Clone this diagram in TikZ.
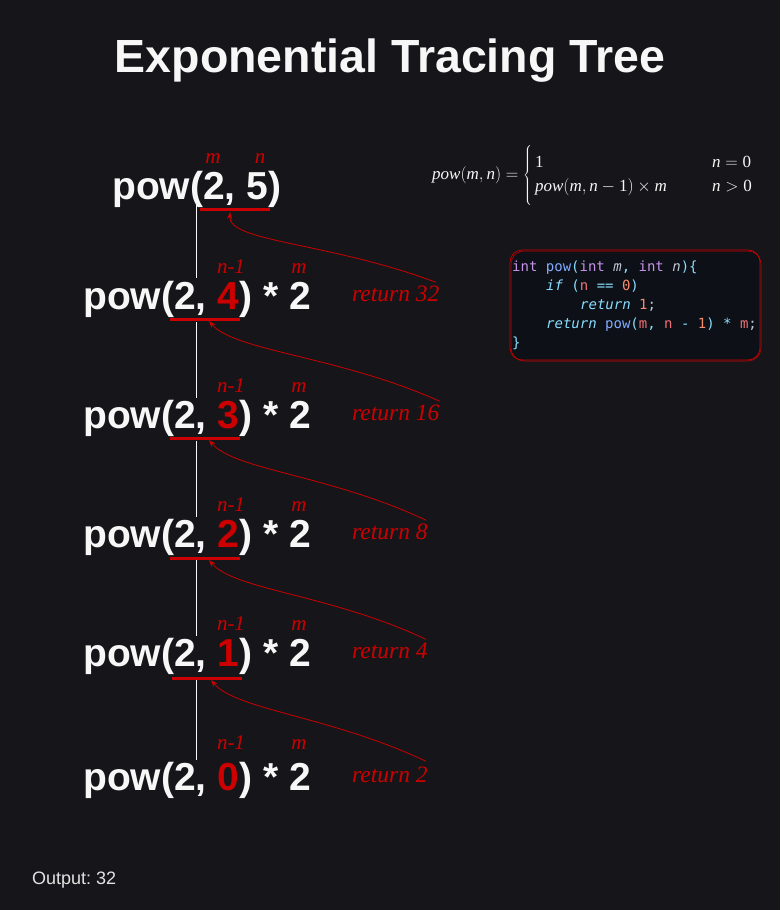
\documentclass[tikz,border=0pt]{standalone}
\usepackage{fontspec}
\setmainfont{Liberation Serif}
\setsansfont{Liberation Sans}
\setmonofont{DejaVu Sans Mono}
\usetikzlibrary{arrows.meta}
\definecolor{bg}{HTML}{16161A}
\definecolor{redc}{HTML}{CC0000}
\definecolor{txtw}{HTML}{F7F7F7}
\definecolor{codebg}{HTML}{0D1117}
\definecolor{ckw}{HTML}{C792EA}
\definecolor{cfn}{HTML}{82AAFF}
\definecolor{cpu}{HTML}{89DDFF}
\definecolor{cva}{HTML}{F07178}
\definecolor{cnu}{HTML}{F78C6C}
\definecolor{cpl}{HTML}{BFC7D5}
\newcommand\cKw[1]{\textcolor{ckw}{#1}}
\newcommand\cFn[1]{\textcolor{cfn}{#1}}
\newcommand\cPu[1]{\textcolor{cpu}{#1}}
\newcommand\cVa[1]{\textcolor{cva}{#1}}
\newcommand\cNu[1]{\textcolor{cnu}{#1}}
\newcommand\cPl[1]{\textcolor{cpl}{#1}}
\newcommand\cIt[1]{\textcolor{cpu}{\itshape #1}}
\newcommand\cPa[1]{\textcolor{cpl}{\itshape #1}}
\newcommand\rd[1]{\textcolor{redc}{#1}}
\newcommand\mi[1]{\textit{#1}}
\frenchspacing
\begin{document}
\begin{tikzpicture}[x=1pt,y=-1pt,
  powtxt/.style={anchor=base west,inner sep=0pt,text=txtw,font=\sffamily\bfseries\fontsize{39}{44}\selectfont},
  vlabel/.style={anchor=base,inner sep=0pt,text=redc,font=\itshape\fontsize{21}{24}\selectfont},
  rettxt/.style={anchor=base west,inner sep=0pt,text=redc,font=\itshape\fontsize{23.5}{26}\selectfont},
  uline/.style={draw=redc,line width=3pt},
  tree/.style={draw=txtw,line width=0.8pt},
  retarrow/.style={draw=redc,line width=0.8pt,-{Stealth[length=7pt,width=5pt]}},
  codeline/.style={anchor=base west,inner sep=0pt,text=cpl,font=\ttfamily\fontsize{14}{17}\selectfont}]
\fill[bg] (0,0) rectangle (780,910);
\useasboundingbox (0,0) rectangle (780,910);

% title
\node[anchor=base,inner sep=0pt,text=txtw,font=\sffamily\bfseries\fontsize{46.5}{50}\selectfont] (title) at (390,72) {Exponential Tracing Tree};

% tree line
\draw[tree] (196,205) -- (196,278);
\draw[tree] (196,322) -- (196,398);
\draw[tree] (196,441) -- (196,517);
\draw[tree] (196,560) -- (196,636);
\draw[tree] (196,680) -- (196,760);

% rows
\node[powtxt] (p0) at (112,199) {pow(2, 5)};
\node[powtxt] (p1) at (83,309) {pow(2, \rd{4}) * 2};
\node[powtxt] (p2) at (83,428) {pow(2, \rd{3}) * 2};
\node[powtxt] (p3) at (83,547) {pow(2, \rd{2}) * 2};
\node[powtxt] (p4) at (83,666) {pow(2, \rd{1}) * 2};
\node[powtxt] (p5) at (83,790) {pow(2, \rd{0}) * 2};

% labels
\node[vlabel] (m0) at (213,163) {m};
\node[vlabel] (n0) at (260,163) {n};
\foreach \i/\y in {1/273,2/392,3/511,4/630,5/749}{
  \node[vlabel] (nl\i) at (231,\y) {n-1};
  \node[vlabel] (ml\i) at (299,\y) {m};
}

% underlines
\draw[uline] (200,209) -- (270,209);
\draw[uline] (170,319) -- (240,319);
\draw[uline] (170,438) -- (240,438);
\draw[uline] (170,558) -- (240,558);
\draw[uline] (172,678) -- (242,678);

% return labels
\node[rettxt] (r1) at (352,301) {return 32};
\node[rettxt] (r2) at (352,420) {return 16};
\node[rettxt] (r3) at (352,539) {return 8};
\node[rettxt] (r4) at (352,658) {return 4};
\node[rettxt] (r5) at (352,782) {return 2};

% arrow targets
\coordinate (t0) at (230,212);
\coordinate (t1) at (209,321);
\coordinate (t2) at (209,440);
\coordinate (t3) at (209,560);
\coordinate (t4) at (211,680);

\draw[retarrow] ([xshift=-4pt,yshift=3pt]r1.north east) .. controls +(-106,-40) and +(-2,30) .. (t0);
\draw[retarrow] ([xshift=0pt,yshift=3pt]r2.north east) .. controls +(-100,-45) and +(25,30) .. (t1);
\draw[retarrow] ([xshift=-2pt,yshift=3pt]r3.north east) .. controls +(-95,-45) and +(25,30) .. (t2);
\draw[retarrow] ([xshift=-2pt,yshift=3pt]r4.north east) .. controls +(-95,-45) and +(25,30) .. (t3);
\draw[retarrow] ([xshift=-2pt,yshift=5pt]r5.north east) .. controls +(-95,-45) and +(25,30) .. (t4);

% formula
\node[anchor=west,inner sep=0pt,text=txtw,font=\fontsize{17}{24}\selectfont] (formula) at (432,175)
  {$\mi{pow}(\mi{m}, \mi{n}) = \left\{\vcenter{\hbox{\rule{0pt}{60pt}}}\hspace{3pt}\begin{array}{@{}l@{\hspace{45pt}}l@{}} \textup{1} & \mi{n} = \textup{0}\\ \mi{pow}(\mi{m}, \mi{n} - \textup{1}) \times \mi{m} & \mi{n} > \textup{0}\end{array}\right.$};

% code box
\node[draw=redc,fill=codebg,rounded corners=12pt,minimum width=250pt,minimum height=110pt,line width=0.7pt] (code) at (635,305) {};
\draw[redc,line width=0.5pt,rounded corners=13pt] (511,251) rectangle (761,361);
\node[codeline] (c1) at (512,271) {\cKw{int} \cFn{pow}\cPu{(}\cKw{int} \cPa{m}\cPu{,} \cKw{int} \cPa{n}\cPu{)\{}};
\node[codeline] (c2) at (546,290) {\cIt{if} \cPu{(}\cVa{n} \cPu{==} \cNu{0}\cPu{)}};
\node[codeline] (c3) at (580,309) {\cIt{return} \cNu{1}\cPl{;}};
\node[codeline] (c4) at (546,328) {\cIt{return} \cFn{pow}\cPu{(}\cVa{m}\cPu{,} \cVa{n} \cPu{-} \cNu{1}\cPu{)} \cPu{*} \cVa{m}\cPl{;}};
\node[codeline] (c5) at (512,347) {\cPu{\}}};

% output
\node[anchor=base west,inner sep=0pt,text=txtw!92!black,font=\sffamily\fontsize{18}{21}\selectfont] (out) at (32,884) {Output: 32};
\end{tikzpicture}
\end{document}
